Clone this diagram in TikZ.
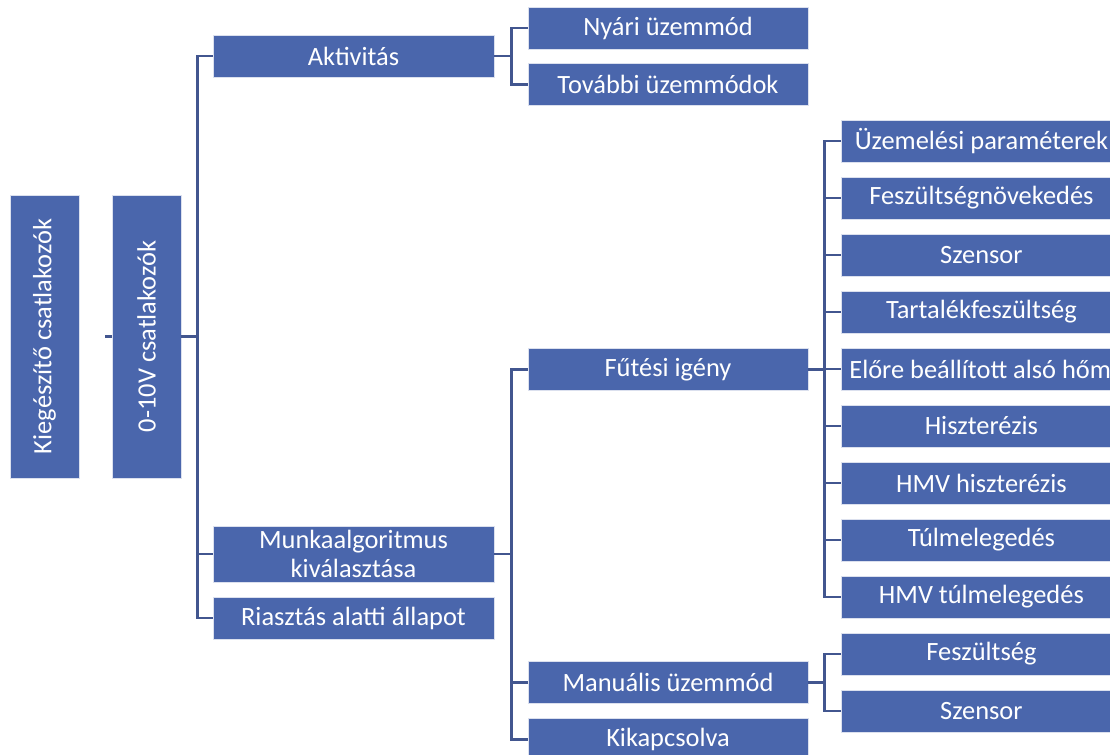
\documentclass[tikz,border=0pt]{standalone}
\usepackage{fontspec}
\setmainfont{Carlito}
\usetikzlibrary{positioning}
\definecolor{boxblue}{HTML}{4A66AC}
\definecolor{linkblue}{HTML}{42568F}

\begin{document}
\begin{tikzpicture}[x=.5pt,y=-.5pt,font=\fontsize{13.2}{14.5}\selectfont,
 box/.style={fill=boxblue,draw=white!80!boxblue,line width=.4pt,text=white,
  minimum width=140pt,minimum height=21pt,inner xsep=4pt,inner ysep=0pt,align=center},
 tall/.style={box,rotate=90,minimum width=141.5pt,minimum height=34.5pt},
 link/.style={linkblue,line width=1.2pt}]
 \useasboundingbox (0,0) rectangle (1110,755);
 \clip (0,0) rectangle (1110,755);
 % upright boxes (rotated: south is the right side, north the left side)
 \node[tall] (kieg) at (44.5,336.5) {Kiegészítő csatlakozók};
 \node[tall] (volt) at (146.5,336.5) {0-10V csatlakozók};
 \draw[link] ([xshift=13pt]kieg.south) -- (volt.north);
 % second column
 \node[box,minimum width=140.5pt] (akt) at (353.5,56) {Aktivitás};
 \node[box,minimum width=140.5pt,minimum height=28pt] (munka) at (353.5,554) {Munkaalgoritmus\\kiválasztása};
 \node[box,minimum width=140.5pt] (riaszt) at (353.5,618) {Riasztás alatti állapot};
 \foreach \c in {akt,munka,riaszt}
  \draw[link] (volt.south) -- ++(16,0) |- (\c.west);
 % third column
 \node[box] (nyari) at (668,28) {Nyári üzemmód};
 \node[box] (tovabb) at (668,84.5) {További üzemmódok};
 \node[box] (futes) at (668,369.5) {Fűtési igény};
 \node[box] (manual) at (668,682.5) {Manuális üzemmód};
 \node[box] (kikap) at (668,739.5) {Kikapcsolva};
 \foreach \c in {nyari,tovabb}
  \draw[link] (akt.east) -- ++(17,0) |- (\c.west);
 \foreach \c in {futes,manual,kikap}
  \draw[link] (munka.east) -- ++(17,0) |- (\c.west);
 % fourth column
 \foreach \t [count=\i from 0] in {Üzemelési paraméterek,Feszültségnövekedés,Szensor,
   Tartalékfeszültség,Előre beállított alsó hőmérséklet,Hiszterézis,HMV hiszterézis,
   Túlmelegedés,HMV túlmelegedés}{
  \node[box,anchor=west] (f\i) at (841,141+57*\i) {\t};
  \draw[link] (futes.east) -- ++(16,0) |- (f\i.west);
 }
 \node[box,anchor=west] (mfesz) at (841,654) {Feszültség};
 \node[box,anchor=west] (mszen) at (841,711) {Szensor};
 \foreach \c in {mfesz,mszen}
  \draw[link] (manual.east) -- ++(16,0) |- (\c.west);
\end{tikzpicture}
\end{document}
